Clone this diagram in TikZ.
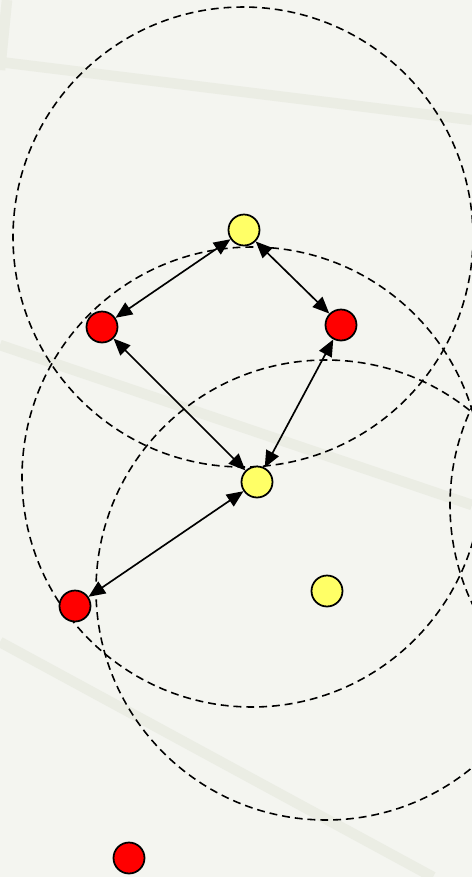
\documentclass[tikz,border=0pt]{standalone}
\usepackage{tikz}
\usetikzlibrary{
  arrows.meta,
  positioning
}
\definecolor{bgcolor}{RGB}{244, 245, 240}
\definecolor{stripecolor}{RGB}{235, 237, 228}
\definecolor{relaycolor}{RGB}{255, 255, 102}
\definecolor{sensorcolor}{RGB}{255, 0, 0}
\definecolor{linkcolor}{RGB}{0, 0, 0}
\tikzset{
stripe/.style={
  draw=stripecolor,
  line width=6pt,
  line cap=butt
},
rangecircle/.style={
  draw=black,
  line width=0.9pt,
  dash pattern=on 4.5pt off 2.8pt
},
nodebase/.style={
  circle,
  draw=black,
  line width=1pt,
  minimum size=0.62cm,
  inner sep=0pt
},
relay/.style={
  nodebase,
  fill=relaycolor
},
sensor/.style={
  nodebase,
  fill=sensorcolor
},
link/.style={
  {Triangle[length=9.5pt,width=8pt]}-{Triangle[length=9.5pt,width=8pt]},
  line width=0.95pt,
  draw=linkcolor
}
}

\begin{document}
\begin{tikzpicture}[x=0.02cm, y=-0.02cm]
  \useasboundingbox (0,0) rectangle (472,877);
  \clip (0,0) rectangle (472,877);
  \fill[bgcolor] (0,0) rectangle (472,877);

  % faint background texture
  \draw[stripe] (7,0) -- (0,70);
  \draw[stripe] (0,62) -- (472,120);
  \draw[stripe] (0,345) -- (472,505);
  \draw[stripe] (0,642) -- (433,877);

  % radio ranges
  \draw[rangecircle] (243,237) circle[radius=230];
  \draw[rangecircle] (252,477) circle[radius=230];
  \draw[rangecircle] (326,590) circle[radius=230];
  \draw[rangecircle] (680,505) circle[radius=230];

  % nodes
  \node[relay]  (top)    at (244,230) {};
  \node[sensor] (left)   at (102,327) {};
  \node[sensor] (right)  at (341,325) {};
  \node[relay]  (mid)    at (257,482) {};
  \node[sensor] (low)    at (75,606)  {};
  \node[relay]  (lone)   at (327,591) {};
  \node[sensor] (bottom) at (129,858) {};

  % links
  \draw[link] (top) -- (left);
  \draw[link] (top) -- (right);
  \draw[link] (left) -- (mid);
  \draw[link] (right) -- (mid);
  \draw[link] (mid) -- (low);
\end{tikzpicture}
\end{document}
